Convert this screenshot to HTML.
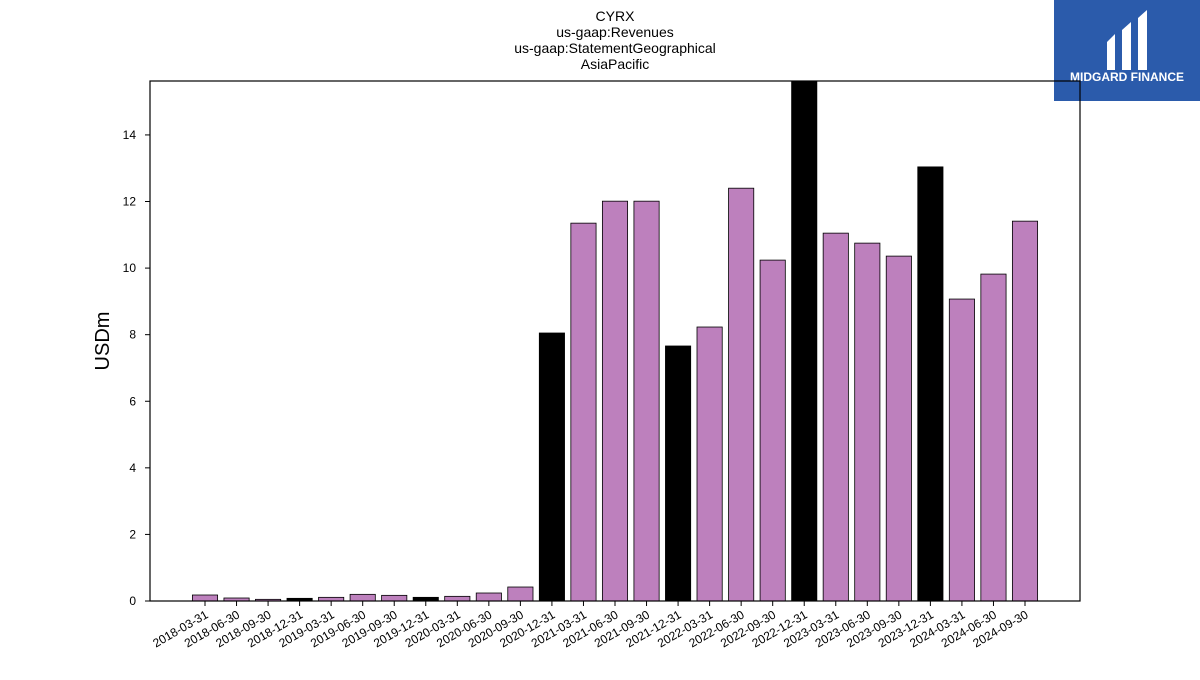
<!DOCTYPE html>
<html><head><meta charset="utf-8"><style>
body{margin:0;background:#fff;font-family:"Liberation Sans",sans-serif}
</style></head><body>
<svg width="1200" height="675" xmlns="http://www.w3.org/2000/svg">
<g font-family="Liberation Sans, sans-serif" font-size="14" text-anchor="middle" fill="#000">
<text x="615" y="21">CYRX</text>
<text x="615" y="37">us-gaap:Revenues</text>
<text x="615" y="53">us-gaap:StatementGeographical</text>
<text x="615" y="69">AsiaPacific</text>
</g>
<g>
<rect x="1054" y="0" width="146" height="101" fill="#2b5bab"/>
<path d="M1107 42 L1115 34 L1115 70 L1107 70 Z M1122 30 L1131 22 L1131 70 L1122 70 Z M1138 18 L1147 10 L1147 70 L1138 70 Z" fill="#fff"/>
<text x="1127" y="81" font-size="12" font-weight="bold" fill="#fff" text-anchor="middle">MIDGARD FINANCE</text>
</g>
<g id="plot"></g>
<text transform="translate(109,341) rotate(-90)" font-size="20" text-anchor="middle">USDm</text>
</svg>
<script>
const categories=["2018-03-31","2018-06-30","2018-09-30","2018-12-31","2019-03-31","2019-06-30","2019-09-30","2019-12-31","2020-03-31","2020-06-30","2020-09-30","2020-12-31","2021-03-31","2021-06-30","2021-09-30","2021-12-31","2022-03-31","2022-06-30","2022-09-30","2022-12-31","2023-03-31","2023-06-30","2023-09-30","2023-12-31","2024-03-31","2024-06-30","2024-09-30"];
const values=[0.18,0.09,0.05,0.08,0.11,0.2,0.17,0.11,0.14,0.24,0.42,8.05,11.35,12.01,12.01,7.66,8.23,12.4,10.24,15.6,11.05,10.75,10.36,13.04,9.07,9.82,11.41];
const yTicks=[0,2,4,6,8,10,12,14];
const NS="http://www.w3.org/2000/svg";
const g=document.getElementById('plot');
const L=150,R=1080,T=81,B=601,yMax=15.62;
const y=v=>B-v/yMax*(B-T);
const step=(1025-205)/(categories.length-1);
const x=i=>205+i*step;
const bw=step*0.8;
function mk(t,a){const e=document.createElementNS(NS,t);for(const k in a)e.setAttribute(k,a[k]);g.appendChild(e);return e;}
categories.forEach((c,i)=>{
  const yr=c.endsWith("12-31");
  const r=mk('rect',{x:x(i)-bw/2,y:y(values[i]),width:bw,height:B-y(values[i]),fill:yr?'#000':'#bd80bd',stroke:'#000','stroke-width':0.8});
  
  
  const tk=mk('line',{x1:x(i),x2:x(i),y1:B,y2:B+5,stroke:'#000'});
  
  
  const t=mk('text',{x:x(i)+4,y:B+16,'font-size':12,'text-anchor':'end',transform:`rotate(-30 ${x(i)+4} ${B+16})`});
  t.textContent=c;
  
  
});
yTicks.forEach(v=>{
  const tk=mk('line',{x1:L-5,x2:L,y1:y(v),y2:y(v),stroke:'#000'});
  
  
  const t=mk('text',{x:L-14,y:y(v)+4,'font-size':12,'text-anchor':'end'});
  t.textContent=v;
  
  
});
const f=mk('rect',{x:L,y:T,width:R-L,height:B-T,fill:'none',stroke:'#000','stroke-width':1.2});


</script>
</body></html>
